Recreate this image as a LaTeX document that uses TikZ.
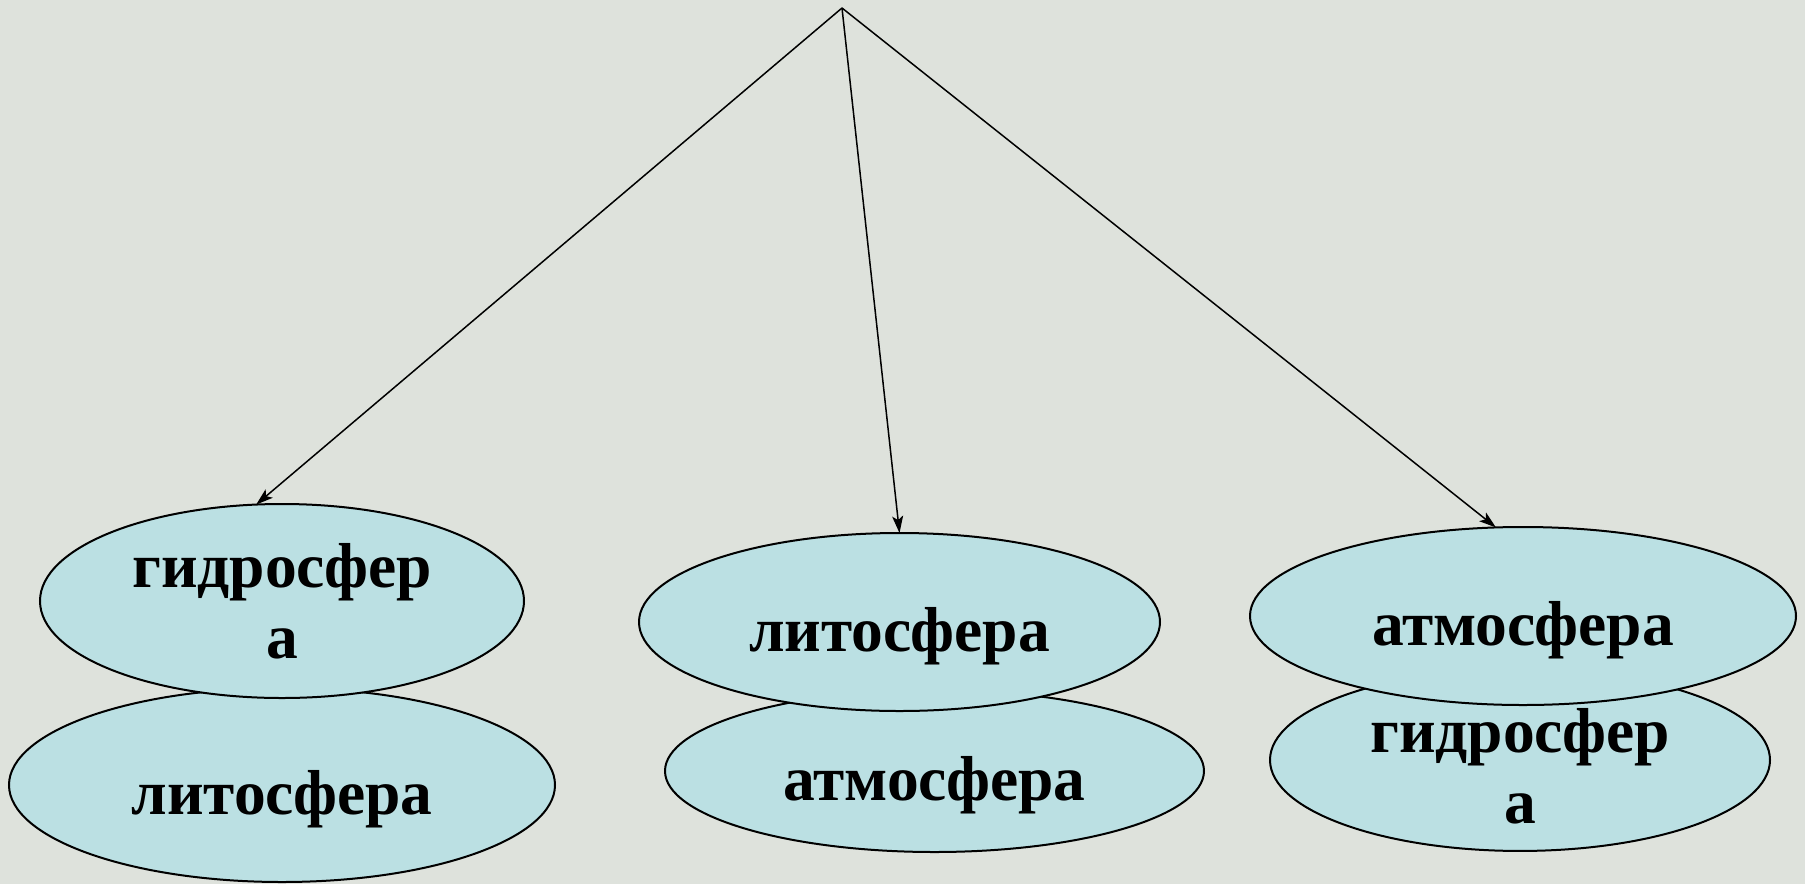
\documentclass[tikz,border=0pt]{standalone}
\usepackage{fontspec}
\setmainfont{Liberation Serif}
\usetikzlibrary{arrows.meta,shapes.geometric}
\definecolor{bgc}{RGB}{222,226,220}
\definecolor{sphere}{RGB}{187,224,227}
\tikzset{
  sphbase/.style={ellipse, draw=black, line width=2pt, fill=sphere, inner sep=0pt, outer sep=0pt,
    align=center, font=\fontsize{63.5}{71}\selectfont\bfseries},
  sph/.style={sphbase, text height=72pt, text depth=14pt},
  sphtwo/.style={sphbase},
  link/.style={draw=black, line width=1.5pt, -{Stealth[length=17pt,width=11pt,inset=4pt]}}
}
\begin{document}
\begin{tikzpicture}[x=1pt,y=-1pt]
\fill[bgc] (0,0) rectangle (1805,884);
\useasboundingbox (0,0) rectangle (1805,884);
\coordinate (apex) at (842,8);
% lower ellipses
\node[sph, minimum width=546pt, minimum height=194pt] (litoL) at (282,785) {литосфера};
\node[sph, minimum width=539pt, minimum height=162pt] (atmoM) at (934.5,771) {атмосфера};
\node[sphtwo, minimum width=500pt, minimum height=160pt] (gidroR) at (1520,760) {\rule{0pt}{57pt}гидросфер\\а};
% upper ellipses
\node[sphtwo, minimum width=484pt, minimum height=194pt] (gidroL) at (282,601) {гидросфер\\а};
\node[sph, minimum width=521pt, minimum height=178pt] (litoM) at (899.5,622) {литосфера};
\node[sph, minimum width=546pt, minimum height=178pt] (atmoR) at (1523,616) {атмосфера};
% arrows
\draw[link] (apex) -- (gidroL.105.6);
\draw[link] (apex) -- (litoM.north);
\draw[link] (apex) -- (atmoR.107.5);
\end{tikzpicture}
\end{document}
